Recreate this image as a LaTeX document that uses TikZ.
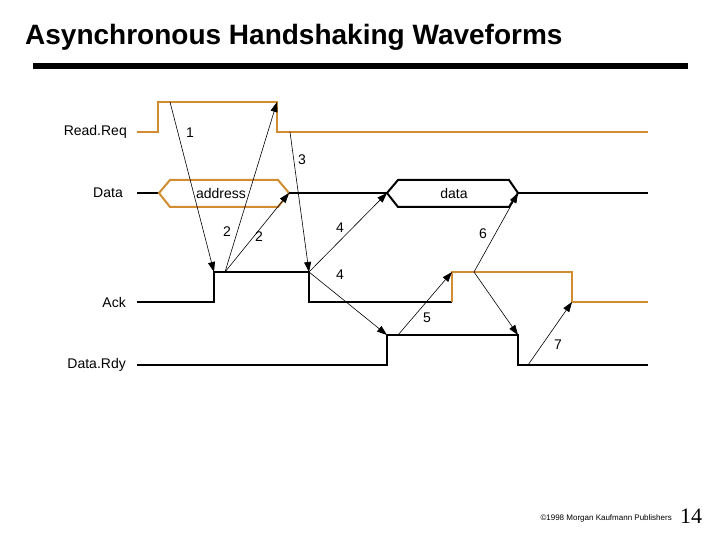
\documentclass[tikz,border=0pt]{standalone}
\usepackage{fontspec}
\setmainfont{Liberation Sans}
\newfontfamily\pagefont{Liberation Serif}
\usetikzlibrary{arrows.meta,positioning}
\definecolor{wireorange}{RGB}{210,140,50}

\begin{document}
\begin{tikzpicture}[x=1pt, y=-1pt,
    wave/.style={line width=2pt},
    busline/.style={wave, draw=wireorange},
    cause/.style={-{Triangle[length=10pt, width=7pt]}, line width=0.6pt},
    sig/.style={font=\fontsize{14}{16}\selectfont, inner sep=0pt},
    num/.style={font=\fontsize{14}{16}\selectfont, inner sep=0pt}
]
    \useasboundingbox (0,0) rectangle (720,540);

    \node[anchor=west, inner sep=0pt, font=\bfseries\fontsize{28}{32}\selectfont] (title) at (25,37) {Asynchronous Handshaking Waveforms};
    \draw[line width=6pt] (33,66) -- (688,66);

    \coordinate (reqstart) at (137,132);
    \coordinate (datstart) at (137,193);
    \coordinate (ackstart) at (137,302);
    \coordinate (rdystart) at (137,365);

    \draw[busline] (reqstart) -- (158,132) -- (158,102) -- (277,102) -- (277,132) -- (648,132);
    \draw[wave] (datstart) -- (159,193);
    \draw[busline] (159,193) -- (170,180) -- (278,180) -- (289,193) -- (278,207) -- (170,207) -- cycle;
    \draw[wave] (289,193) -- (387,193);
    \draw[wave] (387,193) -- (398,180) -- (509,180) -- (518,193) -- (509,207) -- (398,207) -- cycle;
    \draw[wave] (518,193) -- (648,193);
    \draw[wave] (ackstart) -- (214,302) -- (214,272) -- (309,272) -- (309,302) -- (452,302);
    \draw[busline] (452,302) -- (452,272) -- (572,272) -- (572,302) -- (648,302);
    \draw[wave] (rdystart) -- (387,365) -- (387,335) -- (518,335) -- (518,365) -- (648,365);

    \node[sig, left=10pt of reqstart] (reqname) {Read.Req};
    \node[sig, left=14pt of datstart] (datname) {Data};
    \node[sig, left=11pt of ackstart] (ackname) {Ack};
    \node[sig, left=11pt of rdystart] (rdyname) {Data.Rdy};
    \node[sig] (addr) at (221,193) {address};
    \node[sig] (dat) at (454,193) {data};

    \coordinate (reqhi) at (170,102);
    \coordinate (reqfall) at (277,102);
    \coordinate (reqlo) at (290,132);
    \coordinate (addrend) at (289,193);
    \coordinate (datbegin) at (387,193);
    \coordinate (datend) at (518,193);
    \coordinate (ackrise) at (214,272);
    \coordinate (ackhi) at (225,272);
    \coordinate (ackfall) at (309,272);
    \coordinate (ackrise2) at (452,272);
    \coordinate (ackhi2) at (474,272);
    \coordinate (ackfall2) at (572,302);
    \coordinate (rdyrise) at (387,335);
    \coordinate (rdyhi) at (398,335);
    \coordinate (rdyfall) at (518,335);
    \coordinate (rdylo) at (528,365);

    \draw[cause] (reqhi) -- (ackrise);
    \draw[cause] (ackhi) -- (reqfall);
    \draw[cause] (ackhi) -- (addrend);
    \draw[cause] (reqlo) -- (ackfall);
    \draw[cause] (ackfall) -- (datbegin);
    \draw[cause] (ackfall) -- (rdyrise);
    \draw[cause] (rdyhi) -- (ackrise2);
    \draw[cause] (ackhi2) -- (datend);
    \draw[cause] (ackhi2) -- (rdyfall);
    \draw[cause] (rdylo) -- (ackfall2);

    \node[num] (n1) at (190,133) {1};
    \node[num] (n3) at (302,160) {3};
    \node[num] (n2a) at (227,232) {2};
    \node[num] (n2b) at (259,237) {2};
    \node[num] (n4a) at (340,228) {4};
    \node[num] (n6) at (483,234) {6};
    \node[num] (n4b) at (340,275) {4};
    \node[num] (n5) at (427,318) {5};
    \node[num] (n7) at (558,345) {7};

    \node[anchor=east, inner sep=0pt, font=\fontsize{8}{9}\selectfont] (credit) at (672,518) {\textcopyright 1998 Morgan Kaufmann Publishers};
    \node[anchor=west, inner sep=0pt, font=\pagefont\fontsize{22}{24}\selectfont] (page) at (680,516) {14};
\end{tikzpicture}
\end{document}
